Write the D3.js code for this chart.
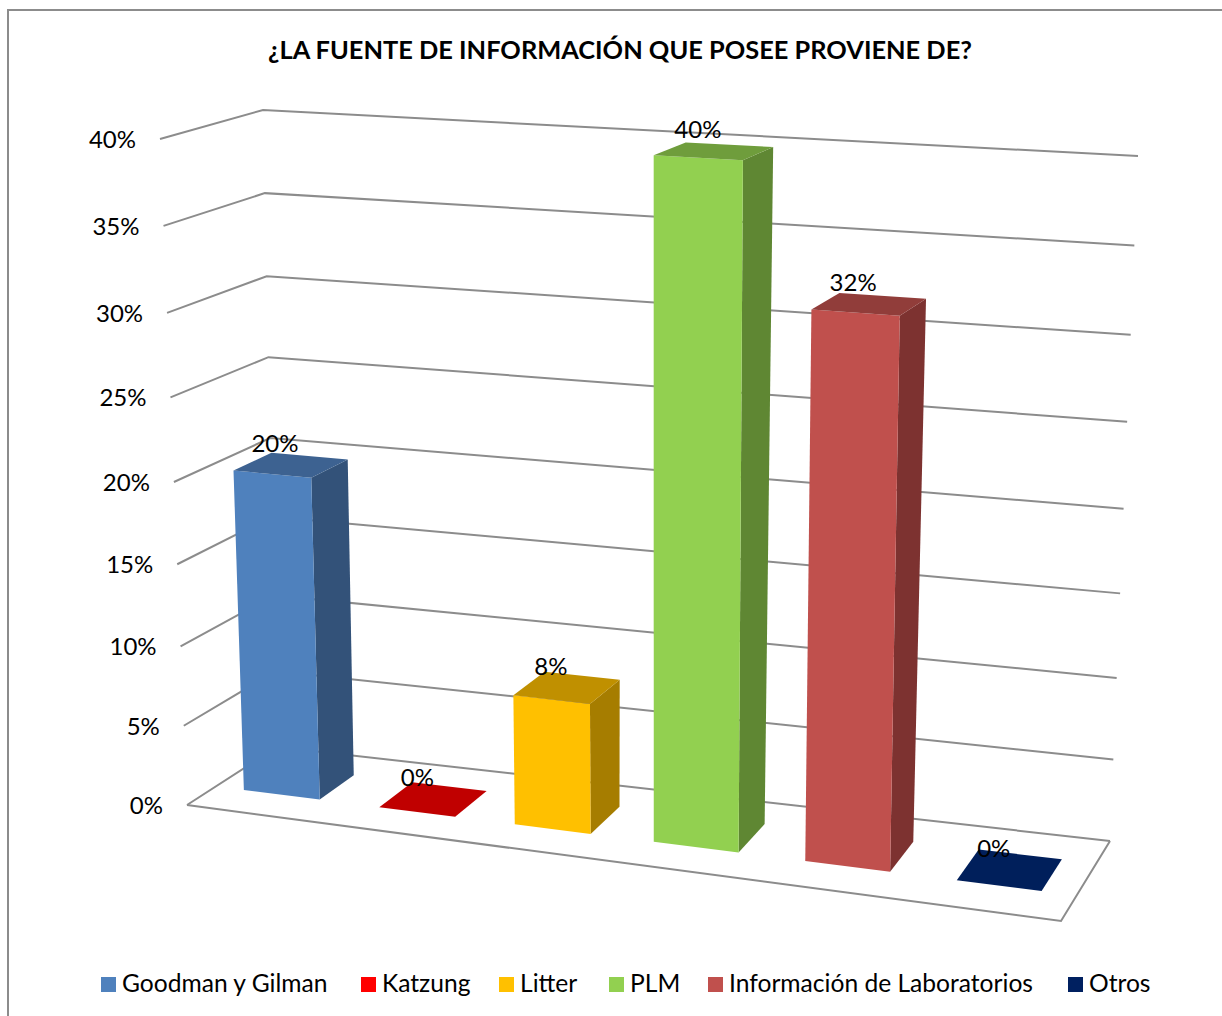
<!DOCTYPE html>
<html><head><meta charset="utf-8">
<script src="https://cdn.jsdelivr.net/npm/d3@7/dist/d3.min.js"></script>
<style>html,body{margin:0;padding:0;background:#fff;overflow:hidden}svg{display:block}text{font-family:Lato,"Open Sans",sans-serif;fill:#000}</style>
</head><body><svg id="c" width="1222" height="1016"></svg>
<script>
const titleText = "¿LA FUENTE DE INFORMACIÓN QUE POSEE PROVIENE DE?";
const categories = ["Goodman y Gilman","Katzung","Litter","PLM","Información de Laboratorios","Otros"];
const values = [20,0,8,40,32,0];
const valueLabels = ["20%","0%","8%","40%","32%","0%"];
const tickValues = [0,5,10,15,20,25,30,35,40];
const frontColors = ["#4F81BD","#C00000","#FFC000","#92D050","#C0504D","#001F5B"];
const sideColors  = ["#335279","#C00000","#A67D00","#5F8733","#7D3230","#001F5B"];
const topColors   = ["#3D6291","#C00000","#C09000","#6F9D3C","#913D3A","#001F5B"];
const legendColors = ["#4F81BD","#FF0000","#FFC000","#92D050","#C0504D","#002060"];
// Perspective box of the plot: [left,right] edges at floor and at the top of the value axis
const floorFront=[[187,805],[1061,921]], floorBack=[[277,747],[1110,841]];
const topFront=[[160,139],[1080,191]], topBack=[[263,110],[1138,156]];

const svg=d3.select("#c");
const mix=(a,b,t)=>[a[0]+(b[0]-a[0])*t,a[1]+(b[1]-a[1])*t];
const hScale=d3.scaleLinear().domain([0,10,20,30,40]).range([0,.238,.485,.739,1]);
const catScale=d3.scaleLinear().domain([0,3,6]).range([-.002,.47,.998]);
const band=.28, vFront=.32, vBack=.72;
function project(u,v,val){
  const h=hScale(val);
  const f=mix(mix(floorFront[0],floorFront[1],u),mix(topFront[0],topFront[1],u),h);
  const b=mix(mix(floorBack[0],floorBack[1],u),mix(topBack[0],topBack[1],u),h);
  return mix(f,b,v);
}
const line=d3.line(), poly=p=>line(p)+"Z";
const gridColor="#8c8c8c";

// frame
svg.append("rect").attr("x",8).attr("y",10).attr("width",1300).attr("height",1100).attr("fill","#fff").attr("stroke",gridColor).attr("stroke-width",2);

// gridlines
svg.append("g").selectAll("path").data(tickValues).join("path")
  .attr("d",d=>line([project(0,0,d),project(0,1,d),project(1,1,d)]))
  .attr("fill","none").attr("stroke",gridColor).attr("stroke-width",2);
svg.append("path").attr("d",line([project(0,0,0),project(1,0,0),project(1,1,0)]))
  .attr("fill","none").attr("stroke",gridColor).attr("stroke-width",2);

// axis labels
svg.append("g").selectAll("text").data(tickValues).join("text")
  .attr("x",d=>project(0,0,d)[0]-24).attr("y",d=>project(0,0,d)[1]+9)
  .attr("text-anchor","end").attr("font-size",24).text(d=>d+"%");

// bars
const bars=svg.append("g").selectAll("g").data(values).join("g");
bars.each(function(val,i){
  const g=d3.select(this);
  const u0=catScale(i+.5-band), u1=catScale(i+.5+band);
  const A=project(u0,vFront,0),B=project(u1,vFront,0),C=project(u1,vBack,0);
  const D=project(u0,vFront,val),E=project(u1,vFront,val),F=project(u1,vBack,val),G=project(u0,vBack,val);
  if(val>0){
    g.append("path").attr("d",poly([B,C,F,E])).attr("fill",sideColors[i]);
    g.append("path").attr("d",poly([A,B,E,D])).attr("fill",frontColors[i]);
  }
  g.append("path").attr("d",poly([D,E,F,G])).attr("fill",topColors[i]);
});
// data labels
svg.append("g").selectAll("text").data(values).join("text")
  .attr("x",(d,i)=>project(catScale(i+.5),(vFront+vBack)/2,d)[0]-16)
  .attr("y",(d,i)=>project(catScale(i+.5),(vFront+vBack)/2,d)[1]-13)
  .attr("text-anchor","middle").attr("font-size",24).text((d,i)=>valueLabels[i]);

// title
svg.append("text").attr("x",620).attr("y",59).attr("text-anchor","middle").attr("font-size",25.4).attr("font-weight",700).text(titleText);

// legend
const legendX=[101,361,499,609,708,1068];
const leg=svg.append("g").selectAll("g").data(categories).join("g").attr("transform",(d,i)=>`translate(${legendX[i]},977)`);
leg.append("rect").attr("width",15).attr("height",15).attr("fill",(d,i)=>legendColors[i]);
leg.append("text").attr("x",21).attr("y",15).attr("font-size",24.6).text(d=>d);
</script></body></html>
